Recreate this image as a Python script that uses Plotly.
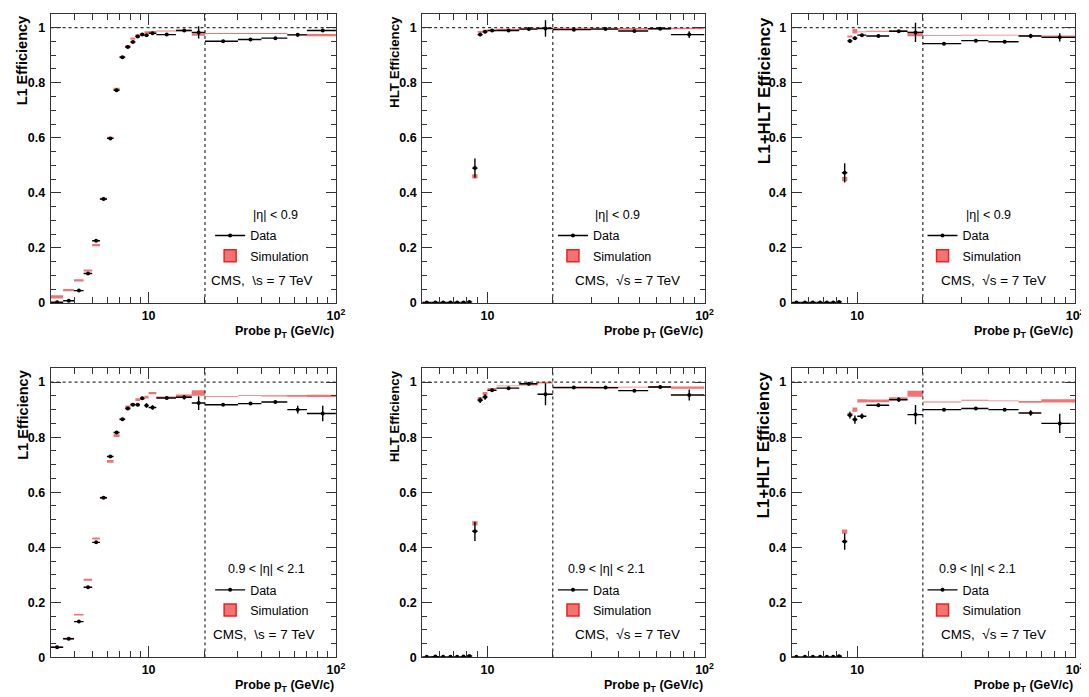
import math
import plotly.graph_objects as go

# ------------------------------------------------------------------ data
# bin edges (GeV/c)
EDGES_FROM3 = [3.0, 3.5, 4.0, 4.5, 5.0, 5.5, 6.0, 6.5, 7.0, 7.5, 8.0, 8.5, 9.0, 9.5,
               10.0, 11.0, 14.0, 17.0, 20.0, 30.0, 40.0, 55.0, 70.0, 100.0]
EDGES_FROM5 = [5.0, 5.5, 6.0, 6.5, 7.0, 7.5, 8.0, 8.5, 9.0, 9.5,
               10.0, 11.0, 14.0, 17.0, 20.0, 30.0, 40.0, 55.0, 70.0, 100.0]

# L1, |eta| < 0.9
L1_B_DATA = [0.003, 0.008, 0.045, 0.107, 0.226, 0.378, 0.598, 0.773, 0.893, 0.930, 0.948, 0.968,
             0.975, 0.973, 0.980, 0.975, 0.990, 0.983, 0.951, 0.957, 0.962, 0.974, 0.990]
L1_B_DERR = [0.002, 0.003, 0.003, 0.004, 0.004, 0.004, 0.004, 0.004, 0.004, 0.004, 0.004, 0.004,
             0.004, 0.004, 0.004, 0.003, 0.004, 0.022, 0.003, 0.003, 0.004, 0.007, 0.006]
L1_B_SIM = [0.022, 0.047, 0.082, 0.118, 0.210, 0.378, 0.600, 0.778, 0.893, 0.932, 0.960, 0.972,
            0.976, 0.983, 0.985, 0.988, 0.990, 0.977, 0.979, 0.979, 0.979, 0.975, 0.973]
L1_B_SERR = [0.006, 0.004, 0.004, 0.004, 0.004, 0.004, 0.004, 0.004, 0.004, 0.004, 0.004, 0.004,
             0.004, 0.004, 0.003, 0.0015, 0.003, 0.006, 0.0015, 0.0015, 0.0015, 0.002, 0.004]

# HLT, |eta| < 0.9
HLT_B_DATA = [0.002, 0.002, 0.002, 0.002, 0.002, 0.002, 0.004, 0.490, 0.975, 0.985,
              0.990, 0.990, 0.995, 0.997, 0.993, 0.995, 0.988, 0.996, 0.975]
HLT_B_DERR = [0.001, 0.001, 0.001, 0.001, 0.001, 0.001, 0.002, 0.035, 0.006, 0.005,
              0.004, 0.003, 0.004, 0.030, 0.003, 0.003, 0.003, 0.004, 0.012]
HLT_B_SIM = [0.0, 0.0, 0.0, 0.0, 0.0, 0.0, 0.0, 0.460, 0.985, 0.990,
             0.990, 0.993, 0.997, 0.998, 0.997, 0.997, 0.996, 0.997, 0.997]
HLT_B_SERR = [0.0, 0.0, 0.0, 0.0, 0.0, 0.0, 0.0, 0.008, 0.003, 0.003,
              0.003, 0.003, 0.003, 0.003, 0.003, 0.003, 0.003, 0.003, 0.003]

# L1+HLT, |eta| < 0.9
ALL_B_DATA = [0.002, 0.002, 0.002, 0.002, 0.002, 0.002, 0.004, 0.473, 0.952, 0.962,
              0.973, 0.970, 0.987, 0.983, 0.942, 0.953, 0.949, 0.970, 0.965]
ALL_B_DERR = [0.001, 0.001, 0.001, 0.001, 0.001, 0.001, 0.002, 0.035, 0.006, 0.006,
              0.005, 0.004, 0.005, 0.035, 0.005, 0.004, 0.004, 0.008, 0.015]
ALL_B_SIM = [0.0, 0.0, 0.0, 0.0, 0.0, 0.0, 0.0, 0.450, 0.968, 0.987,
             0.985, 0.987, 0.988, 0.977, 0.972, 0.973, 0.973, 0.971, 0.968]
ALL_B_SERR = [0.0, 0.0, 0.0, 0.0, 0.0, 0.0, 0.0, 0.008, 0.004, 0.008,
              0.0015, 0.0015, 0.003, 0.008, 0.0015, 0.0015, 0.0015, 0.002, 0.004]

# L1, 0.9 < |eta| < 2.1
L1_E_DATA = [0.037, 0.068, 0.130, 0.255, 0.418, 0.580, 0.730, 0.817, 0.865, 0.904, 0.918, 0.918,
             0.941, 0.915, 0.908, 0.942, 0.945, 0.924, 0.918, 0.922, 0.928, 0.900, 0.886]
L1_E_DERR = [0.003, 0.003, 0.003, 0.004, 0.004, 0.004, 0.005, 0.005, 0.005, 0.005, 0.005, 0.006,
             0.006, 0.008, 0.008, 0.004, 0.008, 0.025, 0.004, 0.004, 0.004, 0.014, 0.028]
L1_E_SIM = [0.037, 0.068, 0.155, 0.282, 0.432, 0.580, 0.712, 0.806, 0.865, 0.911, 0.920, 0.936,
            0.940, 0.945, 0.960, 0.945, 0.950, 0.960, 0.948, 0.952, 0.950, 0.950, 0.950]
L1_E_SERR = [0.003, 0.003, 0.003, 0.004, 0.004, 0.004, 0.005, 0.005, 0.004, 0.004, 0.004, 0.005,
             0.004, 0.005, 0.004, 0.003, 0.005, 0.010, 0.0015, 0.0015, 0.002, 0.003, 0.004]

# HLT, 0.9 < |eta| < 2.1
HLT_E_DATA = [0.002, 0.003, 0.002, 0.002, 0.002, 0.003, 0.005, 0.458, 0.934, 0.946,
              0.970, 0.978, 0.994, 0.956, 0.980, 0.980, 0.969, 0.982, 0.953]
HLT_E_DERR = [0.001, 0.001, 0.001, 0.001, 0.001, 0.001, 0.002, 0.035, 0.010, 0.010,
              0.006, 0.004, 0.005, 0.040, 0.004, 0.004, 0.004, 0.005, 0.020]
HLT_E_SIM = [0.0, 0.0, 0.0, 0.0, 0.0, 0.0, 0.0, 0.487, 0.940, 0.958,
             0.974, 0.986, 0.992, 0.998, 0.981, 0.980, 0.982, 0.982, 0.980]
HLT_E_SERR = [0.0, 0.0, 0.0, 0.0, 0.0, 0.0, 0.0, 0.008, 0.005, 0.006,
              0.005, 0.0015, 0.004, 0.003, 0.003, 0.003, 0.0015, 0.003, 0.004]

# L1+HLT, 0.9 < |eta| < 2.1
ALL_E_DATA = [0.002, 0.002, 0.002, 0.002, 0.002, 0.002, 0.004, 0.421, 0.880, 0.864,
              0.876, 0.916, 0.936, 0.882, 0.900, 0.904, 0.900, 0.888, 0.850]
ALL_E_DERR = [0.001, 0.001, 0.001, 0.001, 0.001, 0.001, 0.002, 0.030, 0.012, 0.015,
              0.010, 0.005, 0.008, 0.035, 0.004, 0.004, 0.004, 0.010, 0.035]
ALL_E_SIM = [0.0, 0.0, 0.0, 0.0, 0.0, 0.0, 0.0, 0.457, 0.884, 0.900,
             0.932, 0.932, 0.940, 0.958, 0.928, 0.934, 0.932, 0.928, 0.932]
ALL_E_SERR = [0.0, 0.0, 0.0, 0.0, 0.0, 0.0, 0.0, 0.008, 0.004, 0.008,
              0.006, 0.005, 0.005, 0.011, 0.002, 0.0015, 0.0015, 0.003, 0.006]

Y_TICKS = [0, 0.2, 0.4, 0.6, 0.8, 1.0]
Y_TICK_TEXT = ["0", "0.2", "0.4", "0.6", "0.8", "1"]
X_TICKS = [10, 100]
X_TICK_TEXT = ["10", "10<sup>2</sup>"]
X_MINOR = [3, 4, 5, 6, 7, 8, 9, 20, 30, 40, 50, 60, 70, 80, 90]
PLATEAU = 1.0
THRESHOLD = 20.0

NB = "\u00a0"
PANELS = [
    dict(edges=EDGES_FROM3, data=L1_B_DATA, derr=L1_B_DERR, sim=L1_B_SIM, serr=L1_B_SERR,
         ytitle="L1 Efficiency", eta="|η| < 0.9", cms=f"CMS,{NB} \\s = 7 TeV", xmin=3),
    dict(edges=EDGES_FROM5, data=HLT_B_DATA, derr=HLT_B_DERR, sim=HLT_B_SIM, serr=HLT_B_SERR,
         ytitle="HLT Efficiency", eta="|η| < 0.9", cms=f"CMS,{NB} √s = 7 TeV", xmin=5),
    dict(edges=EDGES_FROM5, data=ALL_B_DATA, derr=ALL_B_DERR, sim=ALL_B_SIM, serr=ALL_B_SERR,
         ytitle="L1+HLT Efficiency", eta="|η| < 0.9", cms=f"CMS,{NB} √s = 7 TeV", xmin=5),
    dict(edges=EDGES_FROM3, data=L1_E_DATA, derr=L1_E_DERR, sim=L1_E_SIM, serr=L1_E_SERR,
         ytitle="L1 Efficiency", eta="0.9 < |η| < 2.1", cms=f"CMS,{NB} \\s = 7 TeV", xmin=3),
    dict(edges=EDGES_FROM5, data=HLT_E_DATA, derr=HLT_E_DERR, sim=HLT_E_SIM, serr=HLT_E_SERR,
         ytitle="HLT Efficiency", eta="0.9 < |η| < 2.1", cms=f"CMS,{NB} √s = 7 TeV", xmin=5),
    dict(edges=EDGES_FROM5, data=ALL_E_DATA, derr=ALL_E_DERR, sim=ALL_E_SIM, serr=ALL_E_SERR,
         ytitle="L1+HLT Efficiency", eta="0.9 < |η| < 2.1", cms=f"CMS,{NB} √s = 7 TeV", xmin=5),
]

# ------------------------------------------------------------------ layout geometry (pixels)
W, H = 1089, 697
COLS = [(43, 331), (418, 703), (791, 1077)]
ROWS = [(6, 298), (364, 656)]
LEG_LEFT = [204, 550, 923]
ETA_CX = [[270, 615, 990], [261, 604, 978]]
CMS_LEFT = [[203, 570, 940], [205, 570, 940]]
YTITLE_SIZE = [14.5, 13.3, 17]
YTITLE_HALF = [46, 47, 76]   # half length of the rotated title (px), to top-align it

FONT = "Liberation Sans"
SIM_FILL = "#F07474"
SIM_EDGE = "#EE2020"
FRAME = "#333333"


def px(x):
    return x / W


def py(y):
    return 1 - y / H


fig = go.Figure()
layout = {}
annotations = []

for i, p in enumerate(PANELS):
    r, c = divmod(i, 3)
    n = i + 1
    xa = "x" if n == 1 else f"x{n}"
    ya = "y" if n == 1 else f"y{n}"
    legname = "legend" if n == 1 else f"legend{n}"
    edges = p["edges"]
    lo = edges[:-1]
    hi = edges[1:]
    ctr = [(a + b) / 2 for a, b in zip(lo, hi)]

    # simulation boxes (bin width x uncertainty band)
    bx, by = [], []
    for a, b, v, e in zip(lo, hi, p["sim"], p["serr"]):
        if v <= 0:
            continue
        bx += [a, b, b, a, a, None]
        by += [v - e, v - e, v + e, v + e, v - e, None]
    fig.add_trace(go.Scatter(x=bx, y=by, mode="lines", fill="toself", fillcolor=SIM_FILL,
                             line=dict(color="rgba(0,0,0,0)", width=0), hoverinfo="skip",
                             showlegend=False, xaxis=xa, yaxis=ya))

    # reference lines
    fig.add_trace(go.Scatter(x=[p["xmin"], 100], y=[PLATEAU, PLATEAU], mode="lines",
                             line=dict(color="black", width=1, dash="dot"), hoverinfo="skip",
                             showlegend=False, xaxis=xa, yaxis=ya))
    fig.add_trace(go.Scatter(x=[THRESHOLD, THRESHOLD], y=[0, 1.05], mode="lines",
                             line=dict(color="black", width=1, dash="dot"), hoverinfo="skip",
                             showlegend=False, xaxis=xa, yaxis=ya))

    # data
    fig.add_trace(go.Scatter(
        x=ctr, y=p["data"], mode="markers",
        marker=dict(color="black", size=4),
        error_x=dict(type="data", symmetric=False,
                     array=[b - m for b, m in zip(hi, ctr)],
                     arrayminus=[m - a for a, m in zip(lo, ctr)],
                     color="black", thickness=1.4, width=0),
        error_y=dict(type="data", array=p["derr"], color="black", thickness=1.4, width=0),
        showlegend=False, xaxis=xa, yaxis=ya))

    # legend entries
    fig.add_trace(go.Scatter(x=[None], y=[None], mode="lines+markers", name="Data",
                             line=dict(color="black", width=1.4),
                             marker=dict(color="black", size=4),
                             legend=legname, legendgroup=f"d{n}", xaxis=xa, yaxis=ya))
    fig.add_trace(go.Bar(x=[None], y=[None], name="Simulation",
                         marker=dict(color=SIM_FILL, line=dict(color=SIM_EDGE, width=1.5)),
                         legend=legname, legendgroup=f"s{n}", xaxis=xa, yaxis=ya))

    x0, x1 = COLS[c]
    y0, y1 = ROWS[r]
    axis_common = dict(showline=True, linecolor=FRAME, linewidth=1, mirror="allticks",
                       ticks="inside", tickcolor=FRAME, showgrid=False, zeroline=False,
                       tickfont=dict(family=FONT, size=12.5, color="black", weight="bold"))
    layout[f"xaxis{n}" if n > 1 else "xaxis"] = dict(
        axis_common, type="log", range=[math.log10(p["xmin"]), 2],
        domain=[px(x0), px(x1)], anchor=ya,
        tickmode="array", tickvals=X_TICKS, ticktext=X_TICK_TEXT, ticklen=11,
        ticklabelstandoff=1,
        minor=dict(tickmode="array", tickvals=[v for v in X_MINOR if v > p["xmin"]],
                   ticks="inside", ticklen=6, tickcolor=FRAME))
    layout[f"yaxis{n}" if n > 1 else "yaxis"] = dict(
        axis_common, range=[0, 1.05], domain=[py(y1), py(y0)], anchor=xa,
        tickmode="array", tickvals=Y_TICKS, ticktext=Y_TICK_TEXT, ticklen=10,
        ticklabelstandoff=2,
        minor=dict(dtick=0.05, tick0=0, ticks="inside", ticklen=5, tickcolor=FRAME))

    layout[legname] = dict(x=px(LEG_LEFT[c]), y=py(y1 - 83), xanchor="left", yanchor="top",
                           bgcolor="rgba(0,0,0,0)", borderwidth=0, tracegroupgap=1,
                           font=dict(family=FONT, size=12.5, color="black"),
                           itemclick=False)

    # texts
    annotations.append(dict(text=f"<b>{p['ytitle']}</b>", textangle=-90, xref="paper", yref="paper",
                            x=px(x0 - 28), y=py(y0 + 1 + YTITLE_HALF[c]),
                            xanchor="center", yanchor="middle", showarrow=False,
                            font=dict(family=FONT, size=YTITLE_SIZE[c], color="black")))
    annotations.append(dict(text="<b>Probe p<sub>T</sub> (GeV/c)</b>", xref="paper", yref="paper",
                            x=px(x1), y=py(y1 + 19), xanchor="right", yanchor="top",
                            showarrow=False, font=dict(family=FONT, size=12.5, color="black")))
    annotations.append(dict(text=p["eta"], xref="paper", yref="paper",
                            x=px(ETA_CX[r][c]), y=py(y1 - 89), xanchor="center", yanchor="middle",
                            showarrow=False, font=dict(family=FONT, size=12.5, color="black")))
    annotations.append(dict(text=p["cms"], xref="paper", yref="paper",
                            x=px(CMS_LEFT[r][c]), y=py(y1 - 23), xanchor="left", yanchor="middle",
                            showarrow=False, font=dict(family=FONT, size=13.5, color="black")))

fig.update_layout(**layout)
fig.update_layout(width=W, height=H, margin=dict(l=0, r=0, t=0, b=0),
                  paper_bgcolor="white", plot_bgcolor="white",
                  annotations=annotations, showlegend=True, barmode="overlay")

fig.write_html("out.html")
